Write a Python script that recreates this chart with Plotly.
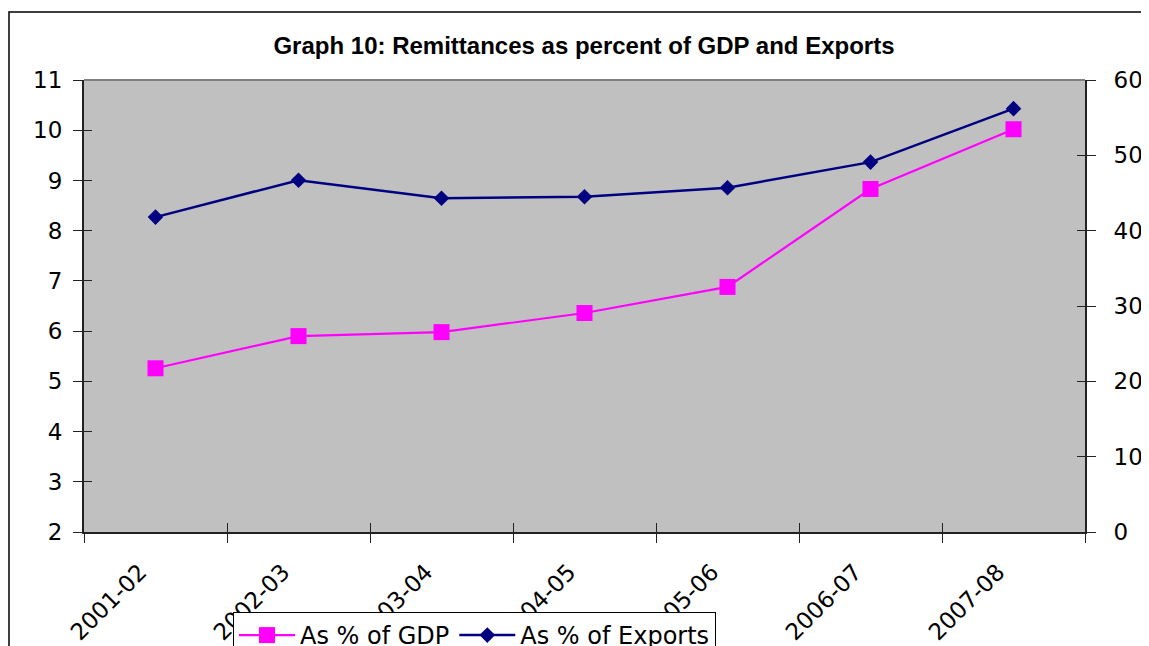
import plotly.graph_objects as go
import numpy as np

years = ["2001-02", "2002-03", "2003-04", "2004-05", "2005-06", "2006-07", "2007-08"]
pct_gdp = [5.26, 5.90, 5.98, 6.36, 6.88, 8.83, 10.02]
pct_exports = [41.8, 46.7, 44.3, 44.5, 45.7, 49.1, 56.2]

title_text = "Graph 10: Remittances as percent of GDP and Exports"
left_ticks = list(range(2, 12))
right_ticks = list(range(0, 70, 10))

# page body has an 8px default margin; compensate
OFF = 8
W, H = 1149 - OFF, 646 - OFF
FONT = "DejaVu Sans"

fig = go.Figure()
fig.add_trace(go.Scatter(
    x=years, y=pct_gdp, name="As % of GDP", mode="lines+markers",
    line=dict(color="#FF00FF", width=2.2),
    marker=dict(symbol="square", size=16, color="#FF00FF"),
    xaxis="x", yaxis="y"))
fig.add_trace(go.Scatter(
    x=years, y=pct_exports, name="As % of Exports", mode="lines+markers",
    line=dict(color="#000080", width=2.5),
    marker=dict(symbol="diamond", size=12, color="#000080"),
    xaxis="x", yaxis="y2"))

tickfont = dict(family=FONT, size=23, color="black")
n = len(years)
bounds = list(np.arange(n + 1) - 0.5)
pad = "\u00a0" * 3

fig.update_layout(
    width=W, height=H,
    margin=dict(l=84 - OFF, r=64, t=80 - OFF, b=114, autoexpand=False),
    paper_bgcolor="white", plot_bgcolor="#C0C0C0",
    showlegend=True,
    title=dict(text="<b>" + title_text + "</b>", x=(584 - OFF) / W, xanchor="center",
               y=1 - (46 - OFF) / H, yanchor="middle",
               font=dict(family="Liberation Sans", size=24, color="black")),
    xaxis=dict(type="category", range=[-0.5, n - 0.5], tickson="boundaries",
               tickmode="array", tickvals=years, ticktext=[y + pad for y in years],
               ticks="outside", ticklen=9, tickcolor="#222", tickwidth=1,
               showline=True, linecolor="#222", linewidth=2, showgrid=False,
               tickangle=-45, tickfont=tickfont, zeroline=False,
               ticklabelstandoff=0, automargin=False),
    xaxis2=dict(overlaying="x", anchor="y", side="bottom", range=[-0.5, n - 0.5],
                tickvals=bounds, ticks="inside", ticklen=9, tickcolor="#222",
                showticklabels=False, showline=False, showgrid=False, zeroline=False),
    yaxis=dict(range=[2, 11], tickvals=left_ticks, ticks="outside", ticklen=9,
               tickcolor="#222", showline=True, linecolor="#222", linewidth=2,
               showgrid=False, zeroline=False, tickfont=tickfont, ticklabelstandoff=6,
               automargin=False),
    yaxis3=dict(overlaying="y", anchor="x", side="left", range=[2, 11],
                tickvals=left_ticks, ticks="inside", ticklen=8, tickcolor="#222",
                showticklabels=False, showline=False, showgrid=False, zeroline=False),
    yaxis2=dict(overlaying="y", anchor="x", side="right", range=[0, 60],
                tickvals=right_ticks, ticks="outside", ticklen=9, tickcolor="#222",
                showline=True, linecolor="#222", linewidth=2, showgrid=False,
                zeroline=False, tickfont=tickfont, ticklabelstandoff=13,
                automargin=False),
    yaxis4=dict(overlaying="y", anchor="x", side="right", range=[0, 60],
                tickvals=right_ticks, ticks="inside", ticklen=8, tickcolor="#222",
                showticklabels=False, showline=False, showgrid=False, zeroline=False),
    legend=dict(orientation="h", x=(233 - 84) / 1001, xanchor="left",
                y=(532 - 612) / 452, yanchor="top",
                bgcolor="white", bordercolor="black", borderwidth=1,
                font=dict(family=FONT, size=24, color="black"),
                tracegroupgap=0, itemwidth=56),
    shapes=[
        dict(type="line", xref="paper", yref="paper", x0=0, x1=1, y0=1, y1=1,
             line=dict(color="#808080", width=2)),
        dict(type="rect", xref="paper", yref="paper", x0=(9 - 84) / 1001, x1=1.2,
             y0=(532 - 12) / 452, y1=-0.6, line=dict(color="black", width=1.5),
             fillcolor="rgba(0,0,0,0)", layer="below"),
    ],
)
fig.add_trace(go.Scatter(x=[0], y=[2], xaxis="x2", yaxis="y3", showlegend=False,
                         mode="markers", marker=dict(opacity=0), hoverinfo="skip"))
fig.add_trace(go.Scatter(x=[0], y=[0], xaxis="x2", yaxis="y4", showlegend=False,
                         mode="markers", marker=dict(opacity=0), hoverinfo="skip"))

fig.write_html("out.html")
